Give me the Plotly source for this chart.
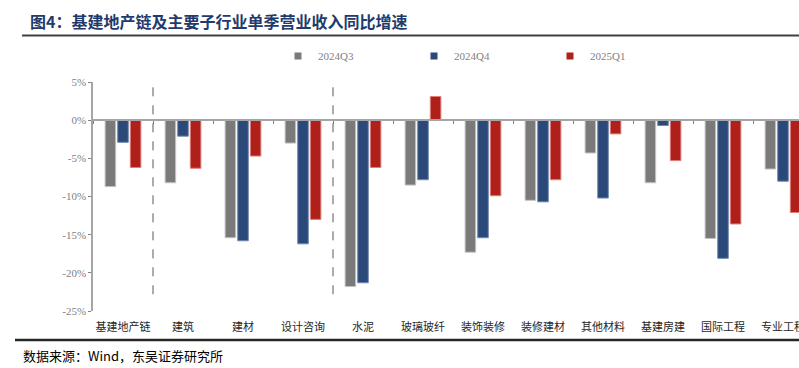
import plotly.graph_objects as go

categories = ["基建地产链", "建筑", "建材", "设计咨询", "水泥", "玻璃玻纤",
              "装饰装修", "装修建材", "其他材料", "基建房建", "国际工程", "专业工程"]
q3_2024 = [-8.7, -8.2, -15.4, -3.0, -21.8, -8.5, -17.3, -10.5, -4.3, -8.2, -15.5, -6.4]
q4_2024 = [-2.9, -2.1, -15.8, -16.2, -21.3, -7.8, -15.4, -10.7, -10.2, -0.7, -18.1, -8.0]
q1_2025 = [-6.2, -6.3, -4.7, -13.0, -6.2, 3.1, -9.9, -7.8, -1.8, -5.3, -13.6, -12.1]
series_names = ["2024Q3", "2024Q4", "2025Q1"]
y_ticks = [5, 0, -5, -10, -15, -20, -25]
separator_after = [0, 3]  # dashed separators after these category indices

colors = ["#7a7a7a", "#2a4878", "#b0201a"]
edge_colors = ["#c4c4c4", "#7088b0", "#e08078"]

W, H = 799, 368
ml, mr, mt, mb = 93, 0, 82, 368 - 311
pw, ph = W - ml - mr, H - mt - mb

def px_x(p):
    return (p - ml) / pw

def px_y(p):
    return (H - mb - p) / ph

fig = go.Figure()
for name, vals, c, ec in zip(series_names, [q3_2024, q4_2024, q1_2025], colors, edge_colors):
    fig.add_trace(go.Bar(x=categories, y=vals, name=name, marker=dict(color=c, line=dict(color=ec, width=1)),
                         showlegend=False))
for name, c in zip(series_names, colors):
    fig.add_trace(go.Scatter(x=[None], y=[None], mode="markers", name=name,
                             marker=dict(symbol="square", size=7, color=c)))
# helper trace for the zero-line axis
fig.add_trace(go.Scatter(x=categories, y=[None] * len(categories), xaxis="x2", mode="markers",
                         showlegend=False, hoverinfo="skip"))

xr = [-0.5, -0.5 + pw / 60.0]

fig.update_layout(
    width=W, height=H,
    margin=dict(l=ml, r=mr, t=mt, b=mb, autoexpand=False),
    plot_bgcolor="white", paper_bgcolor="white",
    barmode="group", bargap=0.37, bargroupgap=0.16,
    xaxis=dict(type="category", categoryorder="array", categoryarray=categories, range=xr,
               showline=False, ticks="", showgrid=False, zeroline=False, automargin=False,
               tickfont=dict(family="Noto Sans CJK SC", size=11, color="#262626"),
               ticklabelstandoff=8),
    xaxis2=dict(type="category", categoryorder="array", categoryarray=categories, range=xr,
                overlaying="x", anchor="free", position=25 / 30, showline=True,
                linecolor="#a6a6a6", linewidth=1.5, ticks="outside", tickson="boundaries",
                ticklen=3, tickcolor="#808080", tickwidth=1, showticklabels=False, showgrid=False,
                zeroline=False),
    yaxis=dict(range=[-25, 5], tickvals=y_ticks, ticktext=[f"{v}%" for v in y_ticks],
               showline=True, linecolor="#a6a6a6", linewidth=1.5, ticks="outside", ticklen=3,
               tickcolor="#808080", showgrid=False, zeroline=False, automargin=False,
               tickfont=dict(family="Liberation Serif", size=11, color="#7f7f7f")),
    legend=dict(orientation="h", x=px_x(278), y=px_y(56), xanchor="left", yanchor="middle",
                font=dict(family="Liberation Serif", size=11, color="#7f7f7f"),
                entrywidth=91, entrywidthmode="pixels", bgcolor="rgba(0,0,0,0)"),
    showlegend=True,
)

for i in separator_after:
    fig.add_shape(type="line", xref="x", yref="y", x0=i + 0.5, x1=i + 0.5, y0=4.3, y1=-22.8,
                  line=dict(color="#595959", width=1, dash="dash"))

# title and source rules
fig.add_shape(type="line", xref="paper", yref="paper", x0=px_x(22), x1=px_x(810), y0=px_y(35.5), y1=px_y(35.5),
              line=dict(color="#404040", width=2))
fig.add_shape(type="line", xref="paper", yref="paper", x0=px_x(15), x1=px_x(810), y0=px_y(340), y1=px_y(340),
              line=dict(color="#262626", width=2.5))

fig.add_annotation(text="<b>图4：基建地产链及主要子行业单季营业收入同比增速</b>", xref="paper", yref="paper",
                   x=px_x(28), y=px_y(21), xanchor="left", yanchor="middle", showarrow=False,
                   font=dict(family="Noto Sans CJK SC", size=16, color="#1f3a6b"))
fig.add_annotation(text="数据来源：Wind，东吴证券研究所", xref="paper", yref="paper",
                   x=px_x(21), y=px_y(355), xanchor="left", yanchor="middle", showarrow=False,
                   font=dict(family="Noto Sans CJK SC", size=13, color="#000000"))

fig.write_html("out.html", config={"displayModeBar": False},
               post_script="document.body.style.margin='0';")
